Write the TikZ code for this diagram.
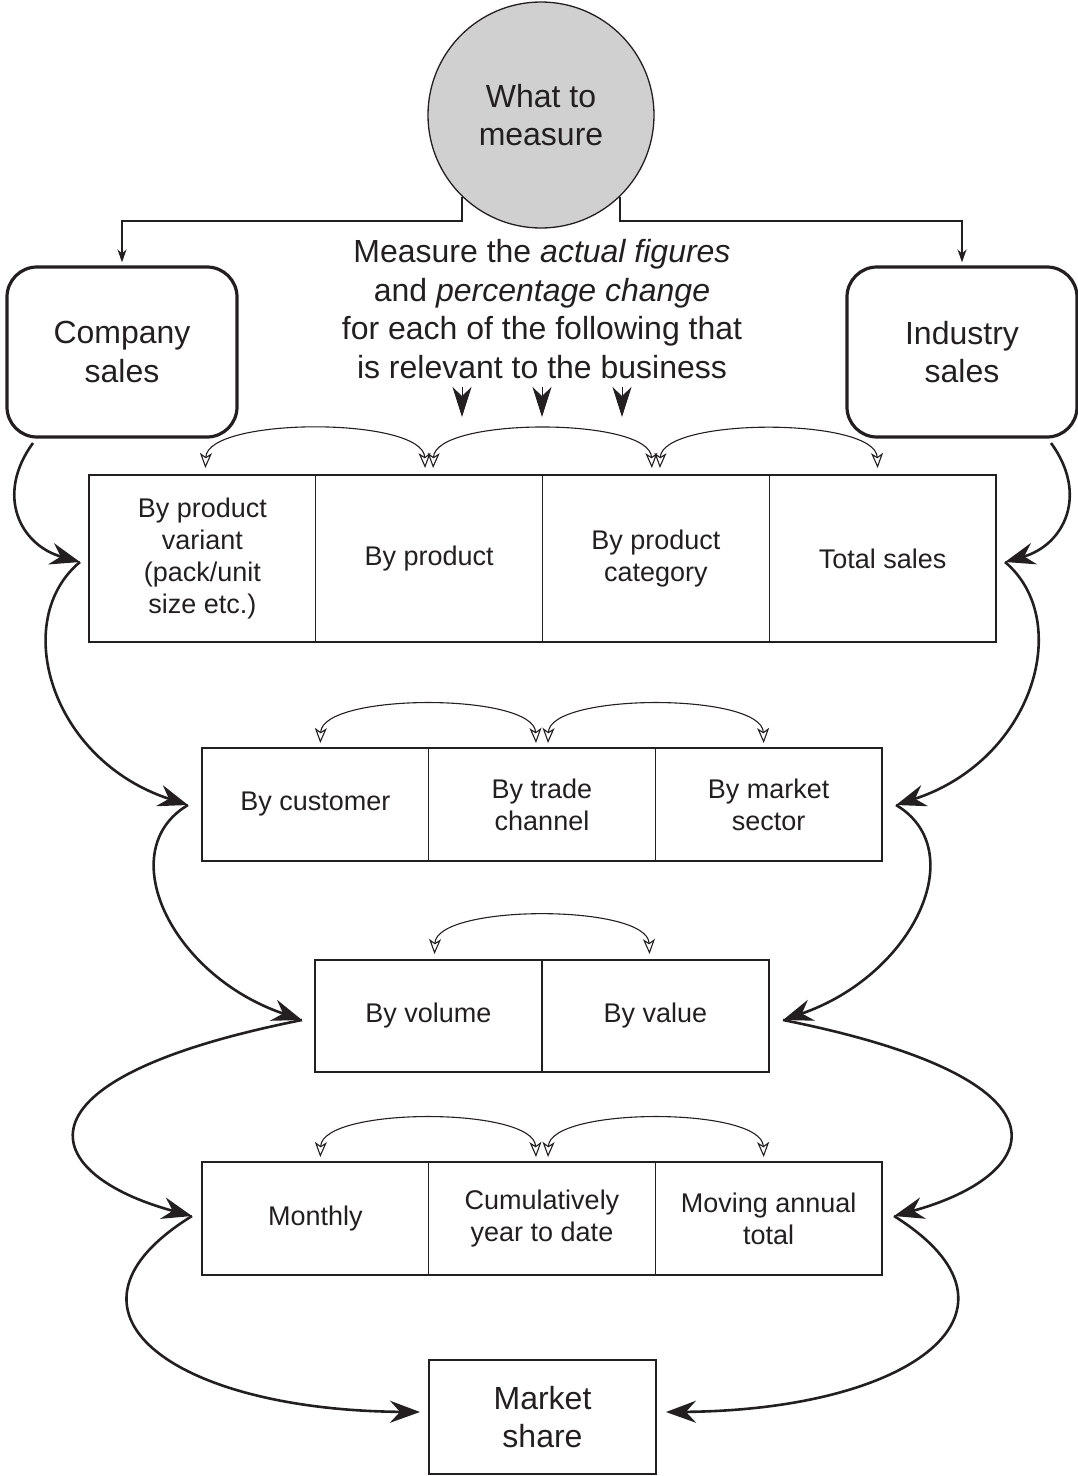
\documentclass[tikz,border=0pt]{standalone}
\usepackage{fontspec}
\setmainfont{Liberation Sans}
\usetikzlibrary{arrows.meta}
\definecolor{ink}{HTML}{231F20}
\definecolor{discfill}{HTML}{D0D0D0}
\begin{document}
\begin{tikzpicture}[x=1pt,y=1pt,
  every node/.style={text=ink},
  bigtext/.style={font=\fontsize{32}{38.5}\selectfont, align=center},
  smalltext/.style={font=\fontsize{27}{32}\selectfont, align=center},
  cell/.style={draw=ink, line width=1.4pt, inner sep=0pt, outer sep=0pt,
    minimum height=#1, smalltext},
  sidebox/.style={draw=ink, line width=3.2pt, rounded corners=30pt,
    minimum width=230pt, minimum height=170pt, inner sep=0pt, bigtext},
  flow/.style={draw=ink, line width=2.6pt,
    -{Stealth[length=30pt,width=22pt,inset=10pt]}},
  swap/.style={draw=ink, line width=1.1pt,
    {Stealth[open,length=15pt,width=12pt,inset=4pt]}-{Stealth[open,length=15pt,width=12pt,inset=4pt]}},
  feed/.style={draw=ink, line width=1.8pt, -{Stealth[length=13pt,width=9pt]}},
  drop/.style={draw=ink, line width=0.8pt, -{Stealth[length=30pt,width=19pt,inset=9pt]}}
]
\useasboundingbox (0,0) rectangle (1078,-1476);

% top disc and the two sales boxes
\node[circle, draw=ink, line width=1.3pt, fill=discfill, minimum size=226pt,
  inner sep=0pt, bigtext] (circ) at (541,-115) {What to\\measure};
\node[sidebox] (comp) at (122,-352) {Company\\sales};
\node[sidebox] (ind) at (962,-352) {Industry\\sales};

\coordinate (hl) at (0,-221);
\draw[feed] (circ.226) -- (circ.226 |- hl) -| ([yshift=3pt]comp.north);
\draw[feed] (circ.-46) -- (circ.-46 |- hl) -| ([yshift=3pt]ind.north);

\node[bigtext] (intro) at (542,-309)
  {Measure the \textit{actual figures}\\and \textit{percentage change}\\for each of the following that\\is relevant to the business};

% three pointers below the intro text
\coordinate (d1) at (462,-387); \coordinate (e1) at (462,-417);
\coordinate (d2) at (542,-387); \coordinate (e2) at (542,-417);
\coordinate (d3) at (622,-387); \coordinate (e3) at (622,-417);
\draw[drop] (d1) -- (e1);
\draw[drop] (d2) -- (e2);
\draw[drop] (d3) -- (e3);

% row 1
\node[cell=167pt, minimum width=226.75pt] (r1a) at (202.4,-558.5) {By product\\variant\\(pack/unit\\size etc.)};
\node[cell=167pt, minimum width=226.75pt] (r1b) at (429.1,-558.5) {By product};
\node[cell=167pt, minimum width=226.75pt] (r1c) at (655.9,-558.5) {By product\\category};
\node[cell=167pt, minimum width=226.75pt] (r1d) at (882.6,-558.5) {Total sales};

% row 2
\node[cell=113pt, minimum width=226.7pt] (r2a) at (315.3,-804.5) {By customer};
\node[cell=113pt, minimum width=226.7pt] (r2b) at (542,-804.5) {By trade\\channel};
\node[cell=113pt, minimum width=226.7pt] (r2c) at (768.7,-804.5) {By market\\sector};

% row 3
\node[cell=112pt, minimum width=227pt] (r3a) at (428.5,-1016) {By volume};
\node[cell=112pt, minimum width=227pt] (r3b) at (655.5,-1016) {By value};

% row 4
\node[cell=113pt, minimum width=226.7pt] (r4a) at (315.3,-1218.5) {Monthly};
\node[cell=113pt, minimum width=226.7pt] (r4b) at (542,-1218.5) {Cumulatively\\year to date};
\node[cell=113pt, minimum width=226.7pt] (r4c) at (768.7,-1218.5) {Moving annual\\total};

% result
\node[cell=114pt, minimum width=227pt, bigtext] (share) at (542.5,-1417) {Market\\share};

% two-way links between neighbouring cells
\tikzset{arcl/.style={out=88, in=92, looseness=0.6}}
\draw[swap] ([shift={(3,7)}]r1a.north) to[arcl] ([shift={(-4,7)}]r1b.north);
\draw[swap] ([shift={(4,7)}]r1b.north) to[arcl] ([shift={(-4,7)}]r1c.north);
\draw[swap] ([shift={(4,7)}]r1c.north) to[arcl] ([shift={(-5,7)}]r1d.north);
\draw[swap] ([shift={(5,5)}]r2a.north) to[arcl] ([shift={(-6,5)}]r2b.north);
\draw[swap] ([shift={(6,5)}]r2b.north) to[arcl] ([shift={(-5,5)}]r2c.north);
\draw[swap] ([shift={(6,6)}]r3a.north) to[arcl] ([shift={(-6,6)}]r3b.north);
\draw[swap] ([shift={(5,5)}]r4a.north) to[arcl] ([shift={(-6,5)}]r4b.north);
\draw[swap] ([shift={(6,5)}]r4b.north) to[arcl] ([shift={(-5,5)}]r4c.north);

% flow on the left, from company sales down to market share
\coordinate (L0) at (33,-443);
\coordinate (L1) at (80,-562);
\coordinate (L2) at (188,-805);
\coordinate (L3) at (302,-1020);
\coordinate (L4) at (192,-1216);
\coordinate (L5) at (420,-1412);
\draw[flow] (L0) .. controls (-5,-495) and (20,-545) .. (L1);
\draw[flow] (L1) .. controls (10,-620) and (50,-760) .. (L2);
\draw[flow] (L2) .. controls (112,-850) and (170,-975) .. (L3);
\draw[flow] (L3) .. controls (0,-1080) and (40,-1175) .. (L4);
\draw[flow] (L4) .. controls (40,-1310) and (170,-1410) .. (L5);

% flow on the right, from industry sales down to market share
\coordinate (R0) at (1051,-443);
\coordinate (R1) at (1005,-562);
\coordinate (R2) at (896,-805);
\coordinate (R3) at (783,-1020);
\coordinate (R4) at (894,-1216);
\coordinate (R5) at (666,-1412);
\draw[flow] (R0) .. controls (1089,-495) and (1064,-545) .. (R1);
\draw[flow] (R1) .. controls (1074,-620) and (1034,-760) .. (R2);
\draw[flow] (R2) .. controls (972,-850) and (914,-975) .. (R3);
\draw[flow] (R3) .. controls (1084,-1080) and (1044,-1175) .. (R4);
\draw[flow] (R4) .. controls (1044,-1310) and (914,-1410) .. (R5);
\end{tikzpicture}
\end{document}
